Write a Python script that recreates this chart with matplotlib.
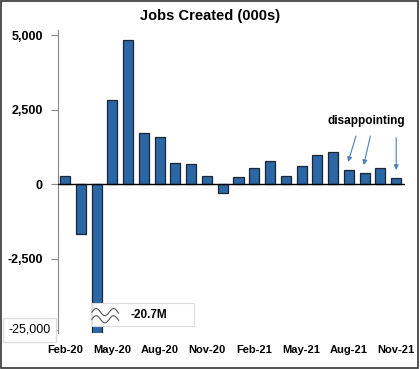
import numpy as np
import matplotlib
matplotlib.use("Agg")
import matplotlib.pyplot as plt
from matplotlib.patches import Rectangle

plt.rcParams['font.family'] = ['Liberation Sans', 'DejaVu Sans']

# monthly payroll change, thousands (Apr-20 is off the chart: -20.7M)
months = ['Feb-20', 'Mar-20', 'Apr-20', 'May-20', 'Jun-20', 'Jul-20', 'Aug-20', 'Sep-20',
          'Oct-20', 'Nov-20', 'Dec-20', 'Jan-21', 'Feb-21', 'Mar-21', 'Apr-21', 'May-21',
          'Jun-21', 'Jul-21', 'Aug-21', 'Sep-21', 'Oct-21', 'Nov-21']
jobs = [280, -1680, -20700, 2820, 4830, 1710, 1580, 715, 680, 264, -306, 233,
        536, 785, 269, 614, 962, 1091, 483, 379, 546, 210]
ytick_vals = [-4900, -2500, 0, 2500, 5000]
ytick_text = ['', '-2,500', '0', '2,500', '5,000']
low_label = '-25,000'
break_label = '-20.7M'
note = 'disappointing'
note_targets = ['Aug-21', 'Sep-21', 'Nov-21']

fig = plt.figure(figsize=(4.2, 3.69), dpi=100)
ax = fig.add_axes([0.138, 0.0976, 0.826, 0.821])

x = np.arange(len(months))
ax.bar(x, jobs, width=0.64, color='#2b66a5', edgecolor='#1c2633', linewidth=0.9, zorder=2)
ax.axhline(0, color='black', linewidth=1, zorder=3)

ax.set_xlim(-0.45, len(months) - 0.45)
ax.set_ylim(-5000, 5170)
ax.set_yticks(ytick_vals)
ax.set_yticklabels(ytick_text, fontsize=9, fontweight='bold')
ax.set_xticks(x[::3])
ax.set_xticklabels(months[::3], fontsize=8, fontweight='bold')
ax.tick_params(axis='x', length=0, pad=9)
ax.tick_params(axis='y', length=5, color='#888888', pad=6)
for s in ['top', 'right', 'bottom']:
    ax.spines[s].set_visible(False)
ax.spines['left'].set_color('#888888')
fig.text(0.5, 1 - 16 / 369, 'Jobs Created (000s)', fontsize=10.5, fontweight='bold',
         ha='center', va='center')

# fake bottom tick label in a box
fig.text(0.07, 1 - 330 / 369, low_label, fontsize=9, ha='center', va='center',
         bbox=dict(facecolor='white', edgecolor='#dddddd', boxstyle='square,pad=0.45'))

# axis break box with squiggle over the Apr-20 bar
ax.add_patch(Rectangle((1.7, -4770), 6.5, 760, facecolor='white', edgecolor='#dddddd',
                       linewidth=0.8, zorder=4))
t = np.linspace(1.7, 3.4, 60)
for off in (-4300, -4540):
    ax.plot(t, off + 120 * np.sin((t - 1.7) * 2 * np.pi / 1.1), color='#555555', lw=0.8, zorder=5)
ax.text(5.3, -4390, break_label, fontsize=8.5, fontweight='bold', ha='center', va='center', zorder=6)

# disappointing note with arrows
ax.text(19.1, 1920, note, fontsize=8.5, fontweight='bold', ha='center', va='bottom')
starts = [(18.5, 1700), (19.4, 1700), (21.0, 1650)]
for (sx, sy), m in zip(starts, note_targets):
    i = months.index(m)
    ax.annotate('', xy=(i - 0.1 if m != 'Nov-21' else i, jobs[i] + 170), xytext=(sx, sy),
                arrowprops=dict(arrowstyle='-|>', color='#4f7fb8', lw=0.8, mutation_scale=7))

fig.patches.append(Rectangle((0.002, 0.004), 0.993, 0.994, transform=fig.transFigure,
                             fill=False, edgecolor='#333333', linewidth=1.2))

fig.savefig('out.png', dpi=100)
